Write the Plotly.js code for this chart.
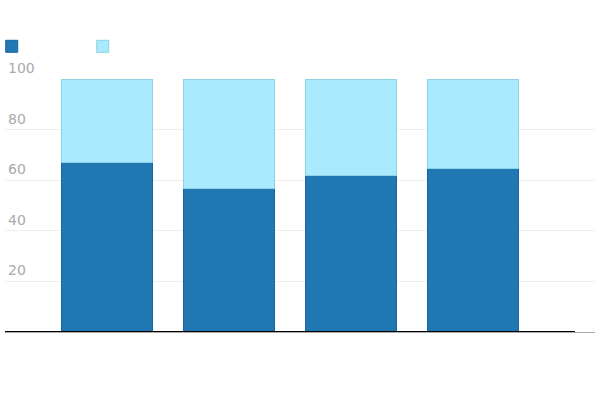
<!DOCTYPE html>
<html>
<head>
<meta charset="utf-8">
<script src="https://cdn.plot.ly/plotly-3.0.1.min.js"></script>
<style>
  html, body { margin: 0; padding: 0; background: #fff; }
  #chart { width: 600px; height: 402px; }
</style>
</head>
<body>
<div id="chart"></div>
<script>
// positions of the four bars
const categories = [0, 1, 2, 3];
const lowerShare = [67, 56.8, 61.9, 64.5];
const upperShare = [33, 43.2, 38.1, 35.5];
const seriesNames = ["Series 1", "Series 2"];
const yTicks = [20, 40, 60, 80, 100];

const traces = [
  {
    type: "bar",
    x: categories,
    y: lowerShare,
    name: seriesNames[0],
    marker: { color: "#1f77b4", line: { color: "#1864a0", width: 1 } },
    width: 0.743,
    hoverinfo: "y",
  },
  {
    type: "bar",
    x: categories,
    y: upperShare,
    name: seriesNames[1],
    marker: { color: "#aaeafe", line: { color: "#8dd3e6", width: 1 } },
    width: 0.743,
    hoverinfo: "y",
  },
];

const layout = {
  width: 600,
  height: 402,
  barmode: "stack",
  margin: { t: 79, l: 5, r: 5, b: 70, autoexpand: false },
  paper_bgcolor: "#fff",
  plot_bgcolor: "#fff",
  font: { family: "DejaVu Sans, sans-serif", size: 14, color: "#aaa" },
  showlegend: true,
  legend: {
    orientation: "h",
    traceorder: "normal",
    x: -0.0225,
    xanchor: "left",
    y: 1.072,
    yanchor: "bottom",
    entrywidth: 46,
    entrywidthmode: "pixels",
    font: { color: "rgba(0,0,0,0)", size: 12 },
    itemclick: false,
  },
  xaxis: {
    type: "linear",
    range: [-0.836, 4.0],
    showticklabels: false,
    showgrid: false,
    zeroline: false,
    showline: true,
    linecolor: "#aaa",
    linewidth: 1,
    ticks: "",
    fixedrange: true,
  },
  yaxis: {
    range: [0, 100],
    tickvals: yTicks,
    ticktext: yTicks.map(String),
    ticklabelposition: "inside",
    ticklabelshift: -11,
    ticklabeloverflow: "allow",
    gridcolor: "#eee",
    gridwidth: 1,
    zeroline: false,
    showline: false,
    ticks: "",
    tickfont: { color: "#aaa", size: 14 },
    fixedrange: true,
  },
  shapes: [
    {
      type: "line",
      xref: "x",
      yref: "y",
      x0: -0.836,
      x1: 3.836,
      y0: 0,
      y1: 0,
      line: { color: "#000", width: 2 },
    },
  ],
};

Plotly.newPlot("chart", traces, layout, { displayModeBar: false, responsive: false });
</script>
</body>
</html>
